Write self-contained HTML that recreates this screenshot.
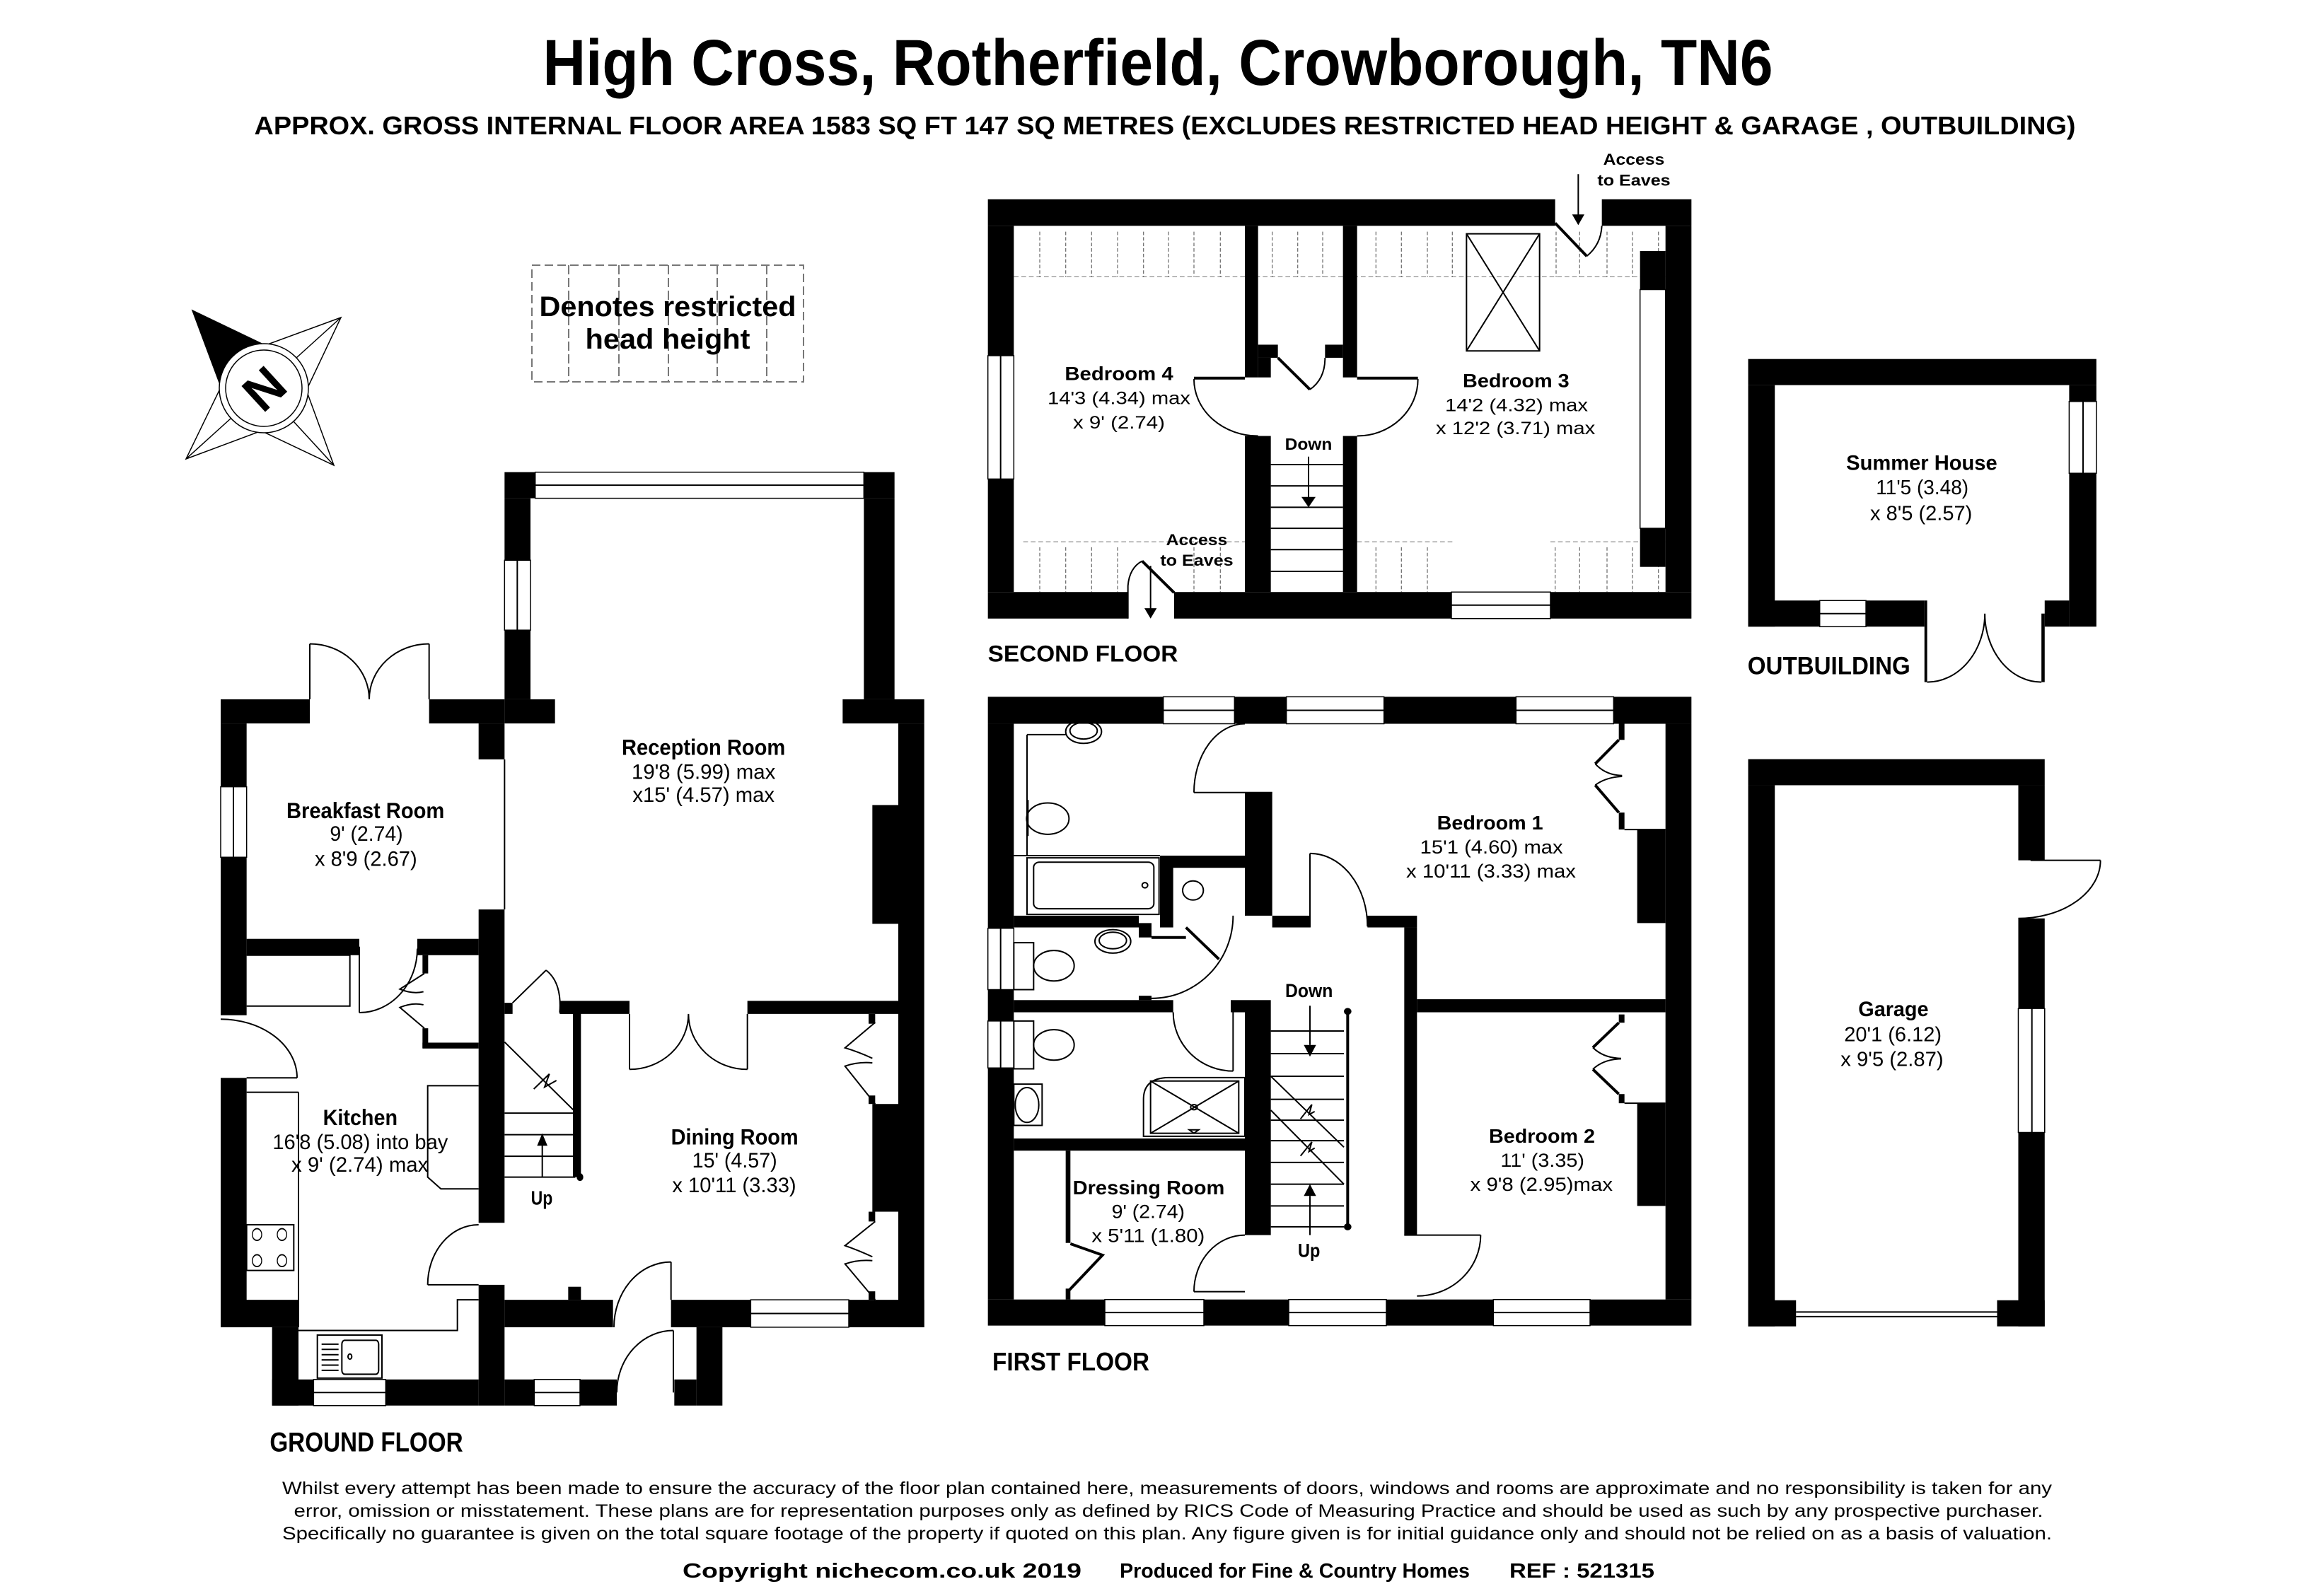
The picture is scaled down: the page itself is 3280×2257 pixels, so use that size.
<!DOCTYPE html>
<html><head><meta charset="utf-8"><title>High Cross floor plan</title>
<style>
html,body{margin:0;padding:0;background:#fff;}
body{width:3280px;height:2252px;overflow:hidden;}
svg text{font-family:"Liberation Sans",Arial,sans-serif;fill:#000;}
.k{fill:#000;stroke:none}
.s{fill:none;stroke:#000;stroke-width:2;vector-effect:non-scaling-stroke}
.s3{fill:none;stroke:#000;stroke-width:4;vector-effect:non-scaling-stroke}
.wn{fill:#fff;stroke:#000;stroke-width:1.5;vector-effect:non-scaling-stroke}
.d{fill:none;stroke:#777;stroke-width:2;stroke-dasharray:10 6;vector-effect:non-scaling-stroke}
.b{font-weight:bold}
</style></head>
<body>
<svg width="3280" height="2252" viewBox="0 0 3280 2252" xmlns="http://www.w3.org/2000/svg">
<rect x="0" y="0" width="3280" height="2252" fill="#fff"/>

<!-- HEADER -->
<text x="1637" y="120" font-size="92" class="b" text-anchor="middle" textLength="1739" lengthAdjust="spacingAndGlyphs">High Cross, Rotherfield, Crowborough, TN6</text>
<text x="1647" y="190" font-size="36" class="b" text-anchor="middle" textLength="2575" lengthAdjust="spacingAndGlyphs">APPROX. GROSS INTERNAL FLOOR AREA 1583 SQ FT 147 SQ METRES (EXCLUDES RESTRICTED HEAD HEIGHT &amp; GARAGE , OUTBUILDING)</text>

<!-- LEGEND -->
<g fill="none" stroke="#777" stroke-width="2">
<rect x="752" y="375" width="384" height="165" stroke-dasharray="12 6"/>
<path d="M804,375V540 M875,375V540 M945,375V540 M1014,375V540 M1084,375V540" stroke-dasharray="13 5"/>
</g>
<text x="944" y="447" font-size="40" class="b" text-anchor="middle" textLength="363" lengthAdjust="spacingAndGlyphs">Denotes restricted</text>
<text x="944" y="493" font-size="40" class="b" text-anchor="middle" textLength="233" lengthAdjust="spacingAndGlyphs">head height</text>

<!-- COMPASS -->
<g stroke="#000" stroke-width="1.5">
<polygon points="482,449 381,486 436,546" fill="#fff"/>
<line x1="482" y1="449" x2="419" y2="506"/>
<polygon points="263,649 365,611 310,552" fill="#fff"/>
<line x1="263" y1="649" x2="326" y2="592"/>
<polygon points="472,658 435,557 375,612" fill="#fff"/>
<line x1="472" y1="658" x2="415" y2="596"/>
<polygon points="272,439 310,541 370,486" fill="#000"/>
<circle cx="373" cy="549" r="63" fill="#fff"/>
<circle cx="373" cy="549" r="54" fill="#fff"/>
</g>
<text x="373" y="575" font-size="72" class="b" text-anchor="middle" transform="rotate(-42.5 373 549)">N</text>

<!-- GROUND FLOOR -->
<svg x="280" y="640" width="1040" height="1440" viewBox="0 0 1560 1560" preserveAspectRatio="none" overflow="visible">
<g class="k">
<rect x="650" y="30" width="65" height="40"/><rect x="1412" y="30" width="65" height="40"/>
<rect x="650" y="70" width="55" height="95"/><rect x="650" y="272" width="55" height="106"/>
<rect x="650" y="378" width="107" height="37"/><rect x="1412" y="70" width="65" height="308"/>
<rect x="1367" y="378" width="173" height="37"/><rect x="1485" y="415" width="55" height="925"/>
<rect x="1430" y="540" width="55" height="182"/>
<rect x="767" y="840" width="148" height="20"/><rect x="1165" y="840" width="320" height="20"/>
<rect x="650" y="843" width="17" height="17"/>
<rect x="1422" y="860" width="14" height="15"/><rect x="1422" y="985" width="14" height="13"/>
<rect x="1430" y="998" width="55" height="165"/>
<rect x="1422" y="1163" width="14" height="15"/><rect x="1422" y="1285" width="14" height="13"/>
<rect x="1003" y="1298" width="169" height="42"/><rect x="1380" y="1298" width="160" height="42"/>
<rect x="1057" y="1340" width="55" height="120"/><rect x="1010" y="1420" width="47" height="40"/>
<rect x="650" y="1298" width="230" height="42"/><rect x="785" y="1278" width="27" height="20"/>
<rect x="650" y="1420" width="63" height="40"/><rect x="810" y="1420" width="78" height="40"/>
<rect x="595" y="700" width="55" height="480"/><rect x="595" y="1275" width="55" height="185"/>
<rect x="595" y="415" width="55" height="55"/>
<rect x="48" y="378" width="189" height="37"/><rect x="490" y="378" width="160" height="37"/>
<rect x="48" y="415" width="55" height="97"/><rect x="48" y="620" width="55" height="242"/>
<rect x="103" y="745" width="239" height="25"/><rect x="465" y="745" width="130" height="25"/>
<rect x="48" y="958" width="55" height="382"/><rect x="48" y="1298" width="165" height="42"/>
<rect x="157" y="1340" width="56" height="120"/>
<rect x="398" y="1420" width="197" height="40"/><rect x="157" y="1420" width="88" height="40"/>
<rect x="795" y="843" width="17" height="267"/><rect x="767" y="843" width="45" height="17"/>
<rect x="476" y="770" width="12" height="28"/><rect x="476" y="882" width="12" height="30"/>
<rect x="476" y="904" width="119" height="9"/>
</g>
<g>
<rect class="wn" x="715" y="30" width="697" height="40"/><path class="s" d="M715,50H1412"/>
<rect class="wn" x="650" y="165" width="55" height="107"/><path class="s" d="M677,165V272"/>
<rect class="wn" x="1172" y="1298" width="208" height="42"/><path class="s" d="M1172,1319H1380"/>
<rect class="wn" x="713" y="1420" width="97" height="40"/><path class="s" d="M713,1440H810"/>
<rect class="wn" x="48" y="512" width="55" height="108"/><path class="s" d="M75,512V620"/>
<rect class="wn" x="245" y="1420" width="153" height="40"/><path class="s" d="M245,1440H398"/>
</g>
<path class="s" d="M237,378V293 M490,378V293 M237,293A126,85 0 0 1 363,378 M490,293A127,85 0 0 0 363,378"/>
<path class="s" d="M48,868A162,90 0 0 1 210,958 M103,958H210"/>
<path class="s" d="M342,757V858 M342,858A123,98 0 0 0 465,760"/>
<path class="s" d="M103,770H322V848H103 M213,980V1340 M103,980H213 M213,1345H550V1298H595"/>
<rect class="s" x="103" y="1183" width="100" height="70"/>
<g class="s"><ellipse cx="125" cy="1198" rx="10" ry="9"/><ellipse cx="178" cy="1198" rx="10" ry="9"/><ellipse cx="125" cy="1238" rx="10" ry="9"/><ellipse cx="178" cy="1238" rx="10" ry="9"/></g>
<rect class="s" x="253" y="1352" width="137" height="66"/>
<rect class="s" x="305" y="1360" width="78" height="52" rx="6"/>
<path class="s" d="M262,1366H298 M262,1374H298 M262,1382H298 M262,1390H298 M262,1398H298 M262,1406H298"/>
<ellipse class="s" cx="322" cy="1385" rx="4" ry="4"/>
<path class="s" d="M595,970H487V1110L515,1128H595"/>
<path class="s" d="M480,798L428,822Q455,830 478,826 M480,882L428,850Q455,842 478,846"/>
<path class="s" d="M487,1275H595 M487,1275A108,92 0 0 1 595,1183"/>
<path class="s" d="M667,843L738,793 M738,793Q772,812 767,858"/>
<path class="s" d="M650,903L800,1010 M650,1012H800 M650,1045H800 M650,1078H800 M650,1110H800 M712,975L745,952L735,972L760,962"/>
<path class="s" d="M730,1110V1060"/><polygon points="730,1043 719,1062 741,1062" fill="#000"/>
<ellipse cx="810" cy="1110" rx="7" ry="6" fill="#000"/>
<path class="s" d="M915,860V945 M1165,860V945 M915,945A125,85 0 0 0 1040,860 M1165,945A125,85 0 0 1 1040,860"/>
<path class="s" d="M650,470V700"/>
<path class="s" d="M1003,1240V1298 M882,1340A121,100 0 0 1 1003,1240"/>
<path class="s" d="M1008,1345V1440 M888,1440A120,95 0 0 1 1008,1345"/>
<path class="s" d="M1436,873L1372,912Q1400,918 1430,928 M1436,998L1372,940Q1400,933 1430,935 M1436,1178L1372,1215Q1400,1222 1430,1232 M1436,1298L1372,1243Q1400,1236 1430,1238"/>
<g text-anchor="middle">
<text x="1072" y="463" font-size="34" class="b" textLength="347" lengthAdjust="spacingAndGlyphs">Reception Room</text>
<text x="1072" y="500" font-size="32" textLength="305" lengthAdjust="spacingAndGlyphs">19'8 (5.99) max</text>
<text x="1072" y="535" font-size="32" textLength="301" lengthAdjust="spacingAndGlyphs">x15' (4.57) max</text>
<text x="355" y="560" font-size="34" class="b" textLength="335" lengthAdjust="spacingAndGlyphs">Breakfast Room</text>
<text x="357" y="595" font-size="32" textLength="155" lengthAdjust="spacingAndGlyphs">9' (2.74)</text>
<text x="356" y="633" font-size="32" textLength="217" lengthAdjust="spacingAndGlyphs">x 8'9 (2.67)</text>
<text x="344" y="1030" font-size="34" class="b" textLength="158" lengthAdjust="spacingAndGlyphs">Kitchen</text>
<text x="344" y="1067" font-size="32" textLength="372" lengthAdjust="spacingAndGlyphs">16'8 (5.08) into bay</text>
<text x="343" y="1102" font-size="32" textLength="290" lengthAdjust="spacingAndGlyphs">x 9' (2.74) max</text>
<text x="1138" y="1060" font-size="34" class="b" textLength="270" lengthAdjust="spacingAndGlyphs">Dining Room</text>
<text x="1138" y="1095" font-size="32" textLength="180" lengthAdjust="spacingAndGlyphs">15' (4.57)</text>
<text x="1137" y="1133" font-size="32" textLength="263" lengthAdjust="spacingAndGlyphs">x 10'11 (3.33)</text>
<text x="729" y="1152" font-size="30" class="b" textLength="46" lengthAdjust="spacingAndGlyphs">Up</text>
</g>
<text x="152" y="1530" font-size="42" class="b" textLength="410" lengthAdjust="spacingAndGlyphs">GROUND FLOOR</text>
</svg>

<!-- SECOND FLOOR -->
<svg x="1380" y="200" width="1040" height="760" viewBox="0 0 1560 1560" preserveAspectRatio="none" overflow="visible">
<g class="d">
<path d="M80,393H1462 M100,1162H570 M808,1162H1010 M1218,1162H1462"/>
<path d="M135,262V393 M190,262V393 M245,262V393 M300,262V393 M355,262V393 M408,262V393 M462,262V393 M518,262V393 M628,262V393 M682,262V393 M735,262V393 M848,262V393 M902,262V393 M957,262V393 M1010,262V393 M1230,262V393 M1280,262V393 M1338,262V393 M1392,262V393 M1447,262V393"/>
<path d="M135,1178V1308 M190,1178V1308 M245,1178V1308 M300,1178V1308 M462,1178V1308 M518,1178V1308 M848,1178V1308 M902,1178V1308 M957,1178V1308 M1228,1178V1308 M1280,1178V1308 M1338,1178V1308 M1392,1178V1308 M1447,1178V1308"/>
</g>
<g class="k">
<rect x="25" y="168" width="1203" height="77"/><rect x="1327" y="168" width="190" height="77"/>
<rect x="25" y="245" width="55" height="377"/><rect x="25" y="980" width="55" height="328"/>
<rect x="25" y="1308" width="297" height="77"/><rect x="420" y="1308" width="588" height="77"/>
<rect x="1218" y="1308" width="299" height="77"/>
<rect x="1462" y="245" width="55" height="1063"/>
<rect x="1408" y="318" width="54" height="112"/><rect x="1408" y="1123" width="54" height="112"/>
<rect x="570" y="245" width="28" height="440"/><rect x="598" y="590" width="42" height="38"/>
<rect x="598" y="628" width="27" height="57"/>
<rect x="778" y="245" width="30" height="440"/><rect x="740" y="590" width="38" height="38"/>
<rect x="570" y="855" width="55" height="453"/><rect x="778" y="855" width="30" height="453"/>
</g>
<rect class="wn" x="25" y="622" width="55" height="358"/><path class="s" d="M52,622V980"/>
<rect class="wn" x="1008" y="1308" width="210" height="77"/><path class="s" d="M1008,1346H1218"/>
<rect class="wn" x="1408" y="430" width="54" height="693"/>
<path class="s3" d="M462,687H570 M808,687H937"/>
<path class="s" d="M462,690A136,165 0 0 0 598,855 M937,690A129,165 0 0 1 808,855"/>
<path class="s3" d="M640,628L708,720"/><path class="s" d="M708,720Q740,690 740,628"/>
<path class="s" d="M625,938H778 M625,1000H778 M625,1062H778 M625,1123H778 M625,1185H778 M625,1248H778"/>
<path class="s" d="M705,915V1035"/><polygon points="705,1062 690,1032 720,1032" fill="#000"/>
<path class="s3" d="M1228,237L1295,333"/><path class="s" d="M1295,333Q1325,300 1327,245 M1277,95V215"/>
<polygon points="1277,243 1264,212 1290,212" fill="#000"/>
<path class="s3" d="M352,1218L420,1310"/><path class="s" d="M322,1385V1290Q325,1238 352,1218 M370,1232V1356"/>
<polygon points="370,1385 357,1355 383,1355" fill="#000"/>
<rect class="s" x="1040" y="268" width="155" height="340"/>
<path class="s" d="M1040,268L1195,608 M1195,268L1040,608"/>
<g text-anchor="middle">
<text x="303" y="693" font-size="55" class="b" textLength="230" lengthAdjust="spacingAndGlyphs">Bedroom 4</text>
<text x="303" y="763" font-size="52" textLength="303" lengthAdjust="spacingAndGlyphs">14'3 (4.34) max</text>
<text x="303" y="833" font-size="52" textLength="195" lengthAdjust="spacingAndGlyphs">x 9' (2.74)</text>
<text x="1145" y="713" font-size="55" class="b" textLength="226" lengthAdjust="spacingAndGlyphs">Bedroom 3</text>
<text x="1146" y="783" font-size="52" textLength="303" lengthAdjust="spacingAndGlyphs">14'2 (4.32) max</text>
<text x="1144" y="850" font-size="52" textLength="338" lengthAdjust="spacingAndGlyphs">x 12'2 (3.71) max</text>
<text x="705" y="895" font-size="48" class="b" textLength="100" lengthAdjust="spacingAndGlyphs">Down</text>
<text x="1395" y="68" font-size="46" class="b" textLength="130" lengthAdjust="spacingAndGlyphs">Access</text>
<text x="1395" y="128" font-size="46" class="b" textLength="155" lengthAdjust="spacingAndGlyphs">to Eaves</text>
<text x="468" y="1172" font-size="46" class="b" textLength="130" lengthAdjust="spacingAndGlyphs">Access</text>
<text x="468" y="1232" font-size="46" class="b" textLength="155" lengthAdjust="spacingAndGlyphs">to Eaves</text>
</g>
<text x="25" y="1510" font-size="66" class="b" textLength="403" lengthAdjust="spacingAndGlyphs">SECOND FLOOR</text>
</svg>

<!-- FIRST FLOOR -->
<svg x="1380" y="970" width="1040" height="960" viewBox="0 0 1560 1560" preserveAspectRatio="none" overflow="visible">
<g class="k">
<rect x="25" y="25" width="372" height="62"/><rect x="548" y="25" width="110" height="62"/>
<rect x="865" y="25" width="280" height="62"/><rect x="1352" y="25" width="165" height="62"/>
<rect x="25" y="87" width="55" height="470"/><rect x="25" y="698" width="55" height="72"/>
<rect x="25" y="878" width="55" height="532"/>
<rect x="25" y="1410" width="248" height="60"/><rect x="483" y="1410" width="180" height="60"/>
<rect x="870" y="1410" width="227" height="60"/><rect x="1302" y="1410" width="215" height="60"/>
<rect x="1462" y="87" width="55" height="1323"/>
<rect x="1402" y="330" width="60" height="215"/><rect x="1402" y="959" width="60" height="236"/>
<rect x="1363" y="86" width="12" height="38"/><rect x="1363" y="291" width="12" height="39"/>
<rect x="1363" y="755" width="12" height="19"/><rect x="1363" y="938" width="12" height="21"/>
<rect x="570" y="245" width="58" height="283"/><rect x="628" y="528" width="80" height="27"/>
<rect x="830" y="528" width="105" height="27"/><rect x="908" y="555" width="27" height="707"/>
<rect x="935" y="720" width="527" height="30"/>
<rect x="390" y="390" width="28" height="165"/><rect x="390" y="390" width="180" height="28"/>
<rect x="80" y="528" width="265" height="27"/><rect x="345" y="545" width="27" height="33"/>
<rect x="80" y="722" width="338" height="28"/><rect x="345" y="712" width="27" height="10"/>
<rect x="540" y="722" width="30" height="28"/><rect x="570" y="722" width="55" height="540"/>
<rect x="80" y="1040" width="490" height="28"/>
<rect x="190" y="1068" width="10" height="212"/><rect x="190" y="1385" width="10" height="25"/>
</g>
<path class="s" d="M1375,330H1462 M1375,959H1462"/>
<g>
<rect class="wn" x="397" y="25" width="151" height="62"/><path class="s" d="M397,56H548"/>
<rect class="wn" x="658" y="25" width="207" height="62"/><path class="s" d="M658,56H865"/>
<rect class="wn" x="1145" y="25" width="207" height="62"/><path class="s" d="M1145,56H1352"/>
<rect class="wn" x="25" y="557" width="55" height="141"/><path class="s" d="M52,557V698"/>
<rect class="wn" x="25" y="770" width="55" height="108"/><path class="s" d="M52,770V878"/>
<rect class="wn" x="273" y="1410" width="210" height="60"/><path class="s" d="M273,1440H483"/>
<rect class="wn" x="663" y="1410" width="207" height="60"/><path class="s" d="M663,1440H870"/>
<rect class="wn" x="1097" y="1410" width="205" height="60"/><path class="s" d="M1097,1440H1302"/>
</g>
<path class="s" d="M462,245H628 M570,87A108,158 0 0 0 462,245"/>
<path class="s" d="M708,385V555 M708,385A122,168 0 0 1 830,553"/>
<path class="s" d="M908,1262H1070 M1070,1262A135,140 0 0 1 935,1402"/>
<path class="s" d="M570,1262A108,130 0 0 0 462,1392 M462,1392H570"/>
<path class="s" d="M545,750V885 M418,750A127,135 0 0 0 545,885"/>
<path class="s3" d="M372,578H445 M445,555L515,628"/>
<path class="s" d="M545,528A173,190 0 0 1 372,718"/>
<path class="s3" d="M200,1282L268,1308L198,1388"/>
<path class="s3" d="M1363,124L1313,179 M1313,228L1363,291 M1363,774L1308,831 M1308,881L1363,938"/>
<path class="s" d="M1313,179Q1335,205 1370,206 M1313,228Q1335,210 1370,208 M1308,831Q1330,855 1368,856 M1308,881Q1330,858 1368,857"/>
<path class="s" d="M625,793H780 M625,845H780 M625,897H780 M625,950H780 M625,998H780 M625,1045H780 M625,1095H780 M625,1145H780 M625,1195H780 M625,1243H780"/>
<path class="s" d="M625,897L780,1060 M625,975L780,1145 M688,995L712,962L706,985L718,978 M688,1080L712,1048L706,1070L718,1062"/>
<path class="s3" d="M788,748V1243"/>
<ellipse cx="788" cy="748" rx="8" ry="8" fill="#000"/><ellipse cx="788" cy="1243" rx="8" ry="8" fill="#000"/>
<path class="s" d="M708,735V825 M708,1262V1172"/>
<polygon points="708,852 695,825 721,825" fill="#000"/><polygon points="708,1145 695,1172 721,1172" fill="#000"/>
<!-- fixtures -->
<path class="s" d="M108,112H190 M108,112V390 M80,390H390"/>
<ellipse class="s" cx="228" cy="105" rx="38" ry="27"/><ellipse class="s" cx="228" cy="103" rx="29" ry="19"/>
<path class="s" d="M110,262V345"/><ellipse class="s" cx="152" cy="305" rx="45" ry="36"/>
<rect class="s" x="108" y="395" width="280" height="130"/>
<rect class="s" x="122" y="405" width="255" height="107" rx="12"/>
<ellipse class="s" cx="358" cy="458" rx="6" ry="6"/>
<ellipse class="s" cx="460" cy="470" rx="22" ry="22"/>
<rect class="s" x="80" y="590" width="42" height="108"/><ellipse class="s" cx="165" cy="643" rx="43" ry="35"/>
<ellipse class="s" cx="290" cy="587" rx="38" ry="27"/><ellipse class="s" cx="290" cy="585" rx="29" ry="19"/>
<rect class="s" x="80" y="770" width="42" height="110"/><ellipse class="s" cx="165" cy="825" rx="43" ry="35"/>
<rect class="s" x="80" y="915" width="60" height="95"/><ellipse class="s" cx="108" cy="963" rx="25" ry="40"/>
<path class="s" d="M355,1035V950Q355,900 410,900H570V1035Z"/>
<rect class="s" x="370" y="908" width="187" height="120"/>
<path class="s" d="M370,908L557,1028 M557,908L370,1028"/>
<ellipse class="s" cx="462" cy="968" rx="7" ry="6"/>
<polygon class="s" points="452,1020 472,1020 462,1028"/>
<g text-anchor="middle">
<text x="1090" y="330" font-size="45" class="b" textLength="225" lengthAdjust="spacingAndGlyphs">Bedroom 1</text>
<text x="1093" y="385" font-size="44" textLength="303" lengthAdjust="spacingAndGlyphs">15'1 (4.60) max</text>
<text x="1092" y="440" font-size="44" textLength="360" lengthAdjust="spacingAndGlyphs">x 10'11 (3.33) max</text>
<text x="1200" y="1050" font-size="45" class="b" textLength="225" lengthAdjust="spacingAndGlyphs">Bedroom 2</text>
<text x="1201" y="1105" font-size="44" textLength="178" lengthAdjust="spacingAndGlyphs">11' (3.35)</text>
<text x="1199" y="1160" font-size="44" textLength="302" lengthAdjust="spacingAndGlyphs">x 9'8 (2.95)max</text>
<text x="366" y="1168" font-size="45" class="b" textLength="322" lengthAdjust="spacingAndGlyphs">Dressing Room</text>
<text x="365" y="1223" font-size="44" textLength="155" lengthAdjust="spacingAndGlyphs">9' (2.74)</text>
<text x="365" y="1278" font-size="44" textLength="240" lengthAdjust="spacingAndGlyphs">x 5'11 (1.80)</text>
<text x="706" y="715" font-size="44" class="b" textLength="101" lengthAdjust="spacingAndGlyphs">Down</text>
<text x="706" y="1312" font-size="44" class="b" textLength="47" lengthAdjust="spacingAndGlyphs">Up</text>
</g>
</svg>
<text x="1403" y="1938" font-size="36" class="b" textLength="222" lengthAdjust="spacingAndGlyphs">FIRST FLOOR</text>

<!-- OUTBUILDING / GARAGE -->
<svg x="2440" y="480" width="600" height="1440" viewBox="0 0 1560 1560" preserveAspectRatio="none" overflow="visible">
<g class="k">
<rect x="82" y="30" width="1280" height="40"/><rect x="82" y="70" width="98" height="370"/>
<rect x="1262" y="70" width="100" height="25"/><rect x="1262" y="205" width="100" height="235"/>
<rect x="82" y="400" width="263" height="40"/><rect x="515" y="400" width="215" height="40"/>
<rect x="1172" y="400" width="90" height="40"/>
<rect x="730" y="400" width="10" height="125"/><rect x="1160" y="420" width="12" height="105"/>
<rect x="82" y="643" width="1090" height="40"/><rect x="82" y="683" width="98" height="829"/>
<rect x="1075" y="683" width="97" height="115"/><rect x="1075" y="887" width="97" height="138"/>
<rect x="1075" y="1215" width="97" height="297"/>
<rect x="82" y="1472" width="176" height="40"/><rect x="997" y="1472" width="175" height="40"/>
</g>
<rect class="wn" x="1262" y="95" width="100" height="110"/><path class="s" d="M1313,95V205"/>
<rect class="wn" x="345" y="400" width="170" height="40"/><path class="s" d="M345,420H515"/>
<rect class="wn" x="1075" y="1025" width="97" height="190"/><path class="s" d="M1125,1025V1215"/>
<path class="s" d="M740,525A212,105 0 0 0 952,420 M1160,525A208,105 0 0 1 952,420"/>
<path class="s" d="M258,1490H997 M258,1497H997"/>
<path class="s" d="M1120,798H1377 M1377,798A302,89 0 0 1 1075,887"/>
<g text-anchor="middle">
<text x="720" y="200" font-size="32" class="b" textLength="555" lengthAdjust="spacingAndGlyphs">Summer House</text>
<text x="722" y="237" font-size="31" textLength="340" lengthAdjust="spacingAndGlyphs">11'5 (3.48)</text>
<text x="718" y="277" font-size="31" textLength="375" lengthAdjust="spacingAndGlyphs">x 8'5 (2.57)</text>
<text x="616" y="1037" font-size="32" class="b" textLength="258" lengthAdjust="spacingAndGlyphs">Garage</text>
<text x="614" y="1075" font-size="31" textLength="358" lengthAdjust="spacingAndGlyphs">20'1 (6.12)</text>
<text x="611" y="1113" font-size="31" textLength="378" lengthAdjust="spacingAndGlyphs">x 9'5 (2.87)</text>
</g>
<text x="80" y="513" font-size="38" class="b" textLength="598" lengthAdjust="spacingAndGlyphs">OUTBUILDING</text>
</svg>

<!-- FOOTER -->
<g text-anchor="middle">
<text x="1650" y="2113" font-size="25" textLength="2502" lengthAdjust="spacingAndGlyphs">Whilst every attempt has been made to ensure the accuracy of the floor plan contained here, measurements of doors, windows and rooms are approximate and no responsibility is taken for any</text>
<text x="1652" y="2145" font-size="25" textLength="2473" lengthAdjust="spacingAndGlyphs">error, omission or misstatement. These plans are for representation purposes only as defined by RICS Code of Measuring Practice and should be used as such by any prospective purchaser.</text>
<text x="1650" y="2177" font-size="25" textLength="2502" lengthAdjust="spacingAndGlyphs">Specifically no guarantee is given on the total square footage of the property if quoted on this plan. Any figure given is for initial guidance only and should not be relied on as a basis of valuation.</text>
</g>
<text x="965" y="2231" font-size="29" class="b" textLength="564" lengthAdjust="spacingAndGlyphs">Copyright nichecom.co.uk 2019</text>
<text x="1583" y="2231" font-size="29" class="b" textLength="495" lengthAdjust="spacingAndGlyphs">Produced for Fine &amp; Country Homes</text>
<text x="2134" y="2231" font-size="29" class="b" textLength="205" lengthAdjust="spacingAndGlyphs">REF : 521315</text>
</svg>
</body></html>
